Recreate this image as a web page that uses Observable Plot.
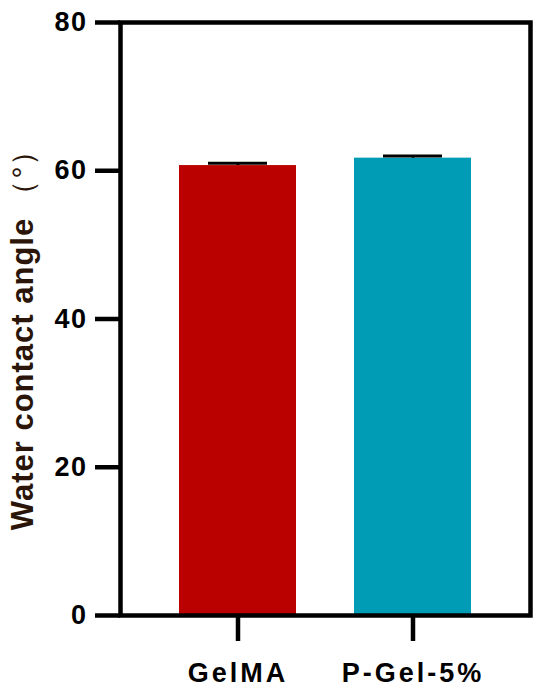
<!DOCTYPE html>
<html>
<head>
<meta charset="utf-8">
<script src="https://cdn.jsdelivr.net/npm/d3@7"></script>
<script src="https://cdn.jsdelivr.net/npm/@observablehq/plot@0.6"></script>
<style>
  html, body { margin: 0; padding: 0; background: #fff; }
</style>
</head>
<body>
<div id="chart"></div>
<script>
const groups = ["GelMA", "P-Gel-5%"];
const means = [60.7, 61.7];
const errors = [0.3, 0.3];
const colors = ["#bb0000", "#009bb4"];
const yTicks = [0, 20, 40, 60, 80];
const yLabelMain = "Water contact angle";
const yLabelUnit = "（°）";

const data = groups.map((g, i) => ({group: g, value: means[i], err: errors[i]}));

const chart = Plot.plot({
  width: 550,
  height: 693,
  marginLeft: 120,
  marginRight: 20,
  marginTop: 22,
  marginBottom: 78,
  style: {
    fontFamily: "'Liberation Sans', Arial, sans-serif",
    fontWeight: "bold",
    background: "#fff",
    color: "#000"
  },
  x: {domain: groups, padding: 0.33, label: null},
  y: {domain: [0, 80], label: null},
  color: {domain: groups, range: colors},
  marks: [
    Plot.barY(data, {x: "group", y: "value", fill: "group"}),
    Plot.ruleX(data, {x: "group", y1: "value", y2: d => d.value + d.err, stroke: "#000", strokeWidth: 3}),
    Plot.tickY(data, {x: "group", y: d => d.value + d.err, stroke: "#000", strokeWidth: 3, insetLeft: 29, insetRight: 29}),
    Plot.frame({stroke: "#000", strokeWidth: 4.5}),
    Plot.axisY({ticks: yTicks, tickSize: 25, tickPadding: 8, strokeWidth: 4.5, fontSize: 27, label: null, tickFormat: d3.format("d")}),
    Plot.axisX({tickSize: 26, tickPadding: 21, strokeWidth: 4.5, fontSize: 27, label: null}),
    Plot.text([yLabelMain], {frameAnchor: "left", rotate: -90, dx: -97, dy: 55, fontSize: 31, fontWeight: "bold", fill: "#2a1508", textAnchor: "middle"}),
    Plot.text([yLabelUnit], {frameAnchor: "left", rotate: -90, dx: -97, dy: -147, fontSize: 30, fontWeight: "normal", fill: "#2a1508", textAnchor: "middle"})
  ]
});

// letter spacing similar to reference rendering
d3.select(chart).selectAll("g[aria-label='x-axis tick label'] text").style("letter-spacing", "3px");
d3.select(chart).selectAll("g[aria-label='y-axis tick label'] text").style("letter-spacing", "1.5px");
d3.select(chart).selectAll("g[aria-label='text'] text").style("letter-spacing", "1px");

document.getElementById("chart").appendChild(chart);
</script>
</body>
</html>
